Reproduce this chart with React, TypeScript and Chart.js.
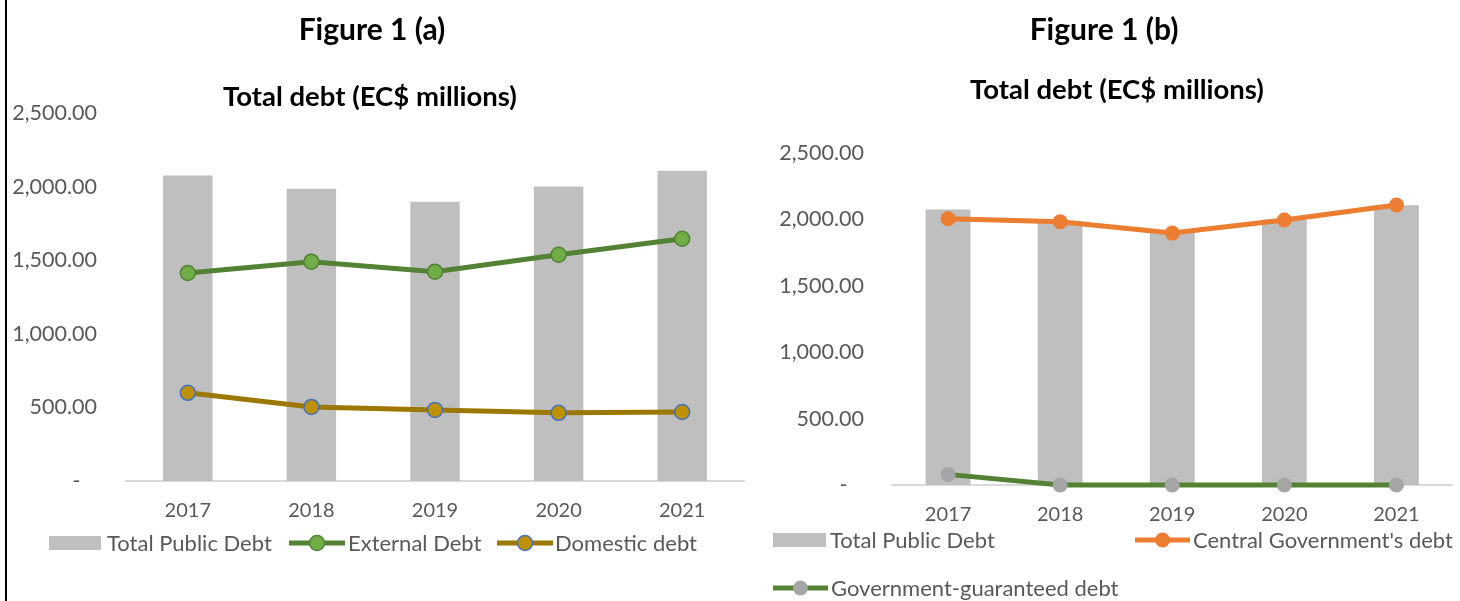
import React, { useEffect, useRef } from "react";
import { Chart, registerables } from "chart.js";

Chart.register(...registerables);

const categories = ["2017", "2018", "2019", "2020", "2021"];
const totalPublicDebt = [2075, 1986, 1897, 2000, 2107];
const externalDebt = [1413, 1490, 1422, 1537, 1646];
const domesticDebt = [599, 503, 483, 463, 469];
const centralGovDebt = [2005, 1982, 1897, 1996, 2108];
const guaranteedDebt = [80, 0, 0, 0, 0];
const yTickValues = [0, 500, 1000, 1500, 2000, 2500];

const FONT = "Lato, 'Open Sans', sans-serif";
const TICK_COLOR = "#595959";

type TitleSpec = { text: string; x: number; y: number; size: number };
type LegendSpec = { ds: number; x: number; y: number; w: number; gap: number };

function makeDecor(titles: TitleSpec[], legend: LegendSpec[]) {
  return {
    id: "decor",
    afterDraw(chart: any) {
      const ctx = chart.ctx as CanvasRenderingContext2D;
      ctx.save();
      ctx.textBaseline = "middle";
      for (const t of titles) {
        ctx.font = `bold ${t.size}px ${FONT}`;
        ctx.fillStyle = "#000000";
        ctx.textAlign = "center";
        ctx.fillText(t.text, t.x, t.y);
      }
      ctx.font = `22px ${FONT}`;
      for (const it of legend) {
        const ds = chart.data.datasets[it.ds];
        if (ds.type === "bar") {
          ctx.fillStyle = ds.backgroundColor;
          ctx.fillRect(it.x, it.y - 7, it.w, 14);
        } else {
          ctx.strokeStyle = ds.borderColor;
          ctx.lineWidth = ds.borderWidth;
          ctx.beginPath();
          ctx.moveTo(it.x, it.y);
          ctx.lineTo(it.x + it.w, it.y);
          ctx.stroke();
          ctx.beginPath();
          ctx.arc(it.x + it.w / 2, it.y, ds.pointRadius, 0, Math.PI * 2);
          ctx.fillStyle = ds.pointBackgroundColor;
          ctx.fill();
          if (ds.pointBorderWidth) {
            ctx.lineWidth = ds.pointBorderWidth;
            ctx.strokeStyle = ds.pointBorderColor;
            ctx.stroke();
          }
        }
        ctx.fillStyle = TICK_COLOR;
        ctx.textAlign = "left";
        ctx.fillText(ds.label, it.x + it.w + it.gap, it.y + 1);
      }
      ctx.restore();
    },
  };
}

function tickLabel(v: any) {
  const n = Number(v);
  if (n === 0) return "-   ";
  return n.toLocaleString("en-US", { minimumFractionDigits: 2, maximumFractionDigits: 2 });
}

function buildOptions(yWidth: number, xHeight: number, top: number, right: number, yPad: number) {
  return {
    responsive: false,
    animation: false as const,
    layout: { padding: { top, right, left: 0, bottom: 0 } },
    plugins: { legend: { display: false }, title: { display: false }, tooltip: { enabled: false } },
    scales: {
      x: {
        grid: { display: false, drawTicks: false },
        border: { display: true, color: "#d9d9d9", width: 2 },
        ticks: { color: TICK_COLOR, font: { family: FONT, size: 20 }, padding: 18 },
        afterFit: (s: any) => {
          s.height = xHeight;
        },
      },
      y: {
        min: 0,
        max: 2500,
        grid: { display: false, drawTicks: false },
        border: { display: false },
        afterBuildTicks: (s: any) => {
          s.ticks = yTickValues.map((v) => ({ value: v }));
        },
        ticks: {
          color: TICK_COLOR,
          font: { family: FONT, size: 21.5 },
          padding: yPad,
          callback: tickLabel,
        },
        afterFit: (s: any) => {
          s.width = yWidth;
        },
      },
    },
  };
}

function ChartA() {
  const ref = useRef<HTMLCanvasElement | null>(null);
  useEffect(() => {
    const chart = new Chart(ref.current as HTMLCanvasElement, {
      type: "bar",
      data: {
        labels: categories,
        datasets: [
          {
            type: "bar",
            label: "Total Public Debt",
            data: totalPublicDebt,
            backgroundColor: "#bfbfbf",
            categoryPercentage: 0.8,
            barPercentage: 0.5,
            order: 3,
          } as any,
          {
            type: "line",
            label: "External Debt",
            data: externalDebt,
            borderColor: "#548235",
            borderWidth: 5,
            pointRadius: 7.5,
            pointBackgroundColor: "#70ad47",
            pointBorderColor: "#548235",
            pointBorderWidth: 1.5,
            tension: 0,
            clip: false,
            order: 1,
          },
          {
            type: "line",
            label: "Domestic debt",
            data: domesticDebt,
            borderColor: "#9c7800",
            borderWidth: 5,
            pointRadius: 7.5,
            pointBackgroundColor: "#bf9000",
            pointBorderColor: "#4472c4",
            pointBorderWidth: 1.5,
            tension: 0,
            clip: false,
            order: 2,
          },
        ],
      },
      options: buildOptions(118, 120, 113, 16, 29) as any,
      plugins: [
        makeDecor(
          [
            { text: "Figure 1 (a)", x: 364, y: 30, size: 30 },
            { text: "Total debt (EC$ millions)", x: 362, y: 97, size: 27.5 },
          ],
          [
            { ds: 0, x: 41, y: 543, w: 52, gap: 6 },
            { ds: 1, x: 281, y: 543, w: 56, gap: 3 },
            { ds: 2, x: 489, y: 543, w: 56, gap: 2 },
          ]
        ),
      ],
    });
    return () => chart.destroy();
  }, []);
  return <canvas ref={ref} width={752} height={601} style={{ display: "block" }} />;
}

function ChartB() {
  const ref = useRef<HTMLCanvasElement | null>(null);
  useEffect(() => {
    const chart = new Chart(ref.current as HTMLCanvasElement, {
      type: "bar",
      data: {
        labels: categories,
        datasets: [
          {
            type: "bar",
            label: "Total Public Debt",
            data: totalPublicDebt,
            backgroundColor: "#bfbfbf",
            categoryPercentage: 0.8,
            barPercentage: 0.5,
            order: 3,
          } as any,
          {
            type: "line",
            label: "Central Government's debt",
            data: centralGovDebt,
            borderColor: "#ed7d31",
            borderWidth: 5,
            pointRadius: 7.5,
            pointBackgroundColor: "#ed7d31",
            pointBorderColor: "#ed7d31",
            pointBorderWidth: 0,
            tension: 0,
            clip: false,
            order: 1,
          },
          {
            type: "line",
            label: "Government-guaranteed debt",
            data: guaranteedDebt,
            borderColor: "#548235",
            borderWidth: 5,
            pointRadius: 7.5,
            pointBackgroundColor: "#a5a5a5",
            pointBorderColor: "#a5a5a5",
            pointBorderWidth: 0,
            tension: 0,
            clip: false,
            order: 2,
          },
        ],
      },
      options: buildOptions(132, 116, 153, 7, 28) as any,
      plugins: [
        makeDecor(
          [
            { text: "Figure 1 (b)", x: 344, y: 30, size: 30 },
            { text: "Total debt (EC$ millions)", x: 357, y: 90, size: 27.5 },
          ],
          [
            { ds: 0, x: 13, y: 540, w: 53, gap: 4 },
            { ds: 1, x: 375, y: 540, w: 55, gap: 3 },
            { ds: 2, x: 13, y: 588, w: 55, gap: 3 },
          ]
        ),
      ],
    });
    return () => chart.destroy();
  }, []);
  return <canvas ref={ref} width={700} height={601} style={{ display: "block" }} />;
}

export default function App() {
  return (
    <div style={{ position: "fixed", left: 0, top: 0, width: 1460, height: 601, background: "#ffffff", overflow: "hidden" }}>
      <div style={{ position: "absolute", left: 5, top: 0, width: 2, height: 601, background: "#000000" }} />
      <div style={{ position: "absolute", left: 8, top: 0 }}>
        <ChartA />
      </div>
      <div style={{ position: "absolute", left: 760, top: 0 }}>
        <ChartB />
      </div>
    </div>
  );
}
